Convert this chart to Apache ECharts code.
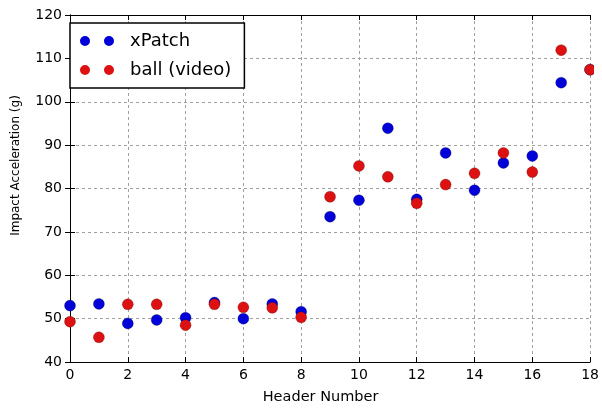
<!DOCTYPE html>
<html>
<head>
<meta charset="utf-8">
<script src="https://cdn.jsdelivr.net/npm/echarts@6/dist/echarts.min.js"></script>
<style>html,body{margin:0;padding:0;background:#fff;}#c{width:602px;height:411px;}</style>
</head>
<body>
<div id="c"></div>
<script>
var headers = [0,1,2,3,4,5,6,7,8,9,10,11,12,13,14,15,16,17,18];
var xPatch = [53.0, 53.4, 48.9, 49.7, 50.2, 53.7, 50.0, 53.4, 51.6, 73.5, 77.3, 93.9, 77.5, 88.2, 79.6, 85.9, 87.5, 104.4, 107.4];
var ballVideo = [49.3, 45.7, 53.3, 53.3, 48.5, 53.3, 52.6, 52.5, 50.3, 78.1, 85.2, 82.7, 76.6, 80.9, 83.5, 88.2, 83.8, 111.9, 107.4];

function pairs(xs, ys){ return xs.map(function(x,i){ return [x, ys[i]]; }); }

var font = 'DejaVu Sans';
// two dots plus an invisible point that widens the icon box to leave the text gap
var twoDots = 'path://M0,5A5,5 0 1,0 10,5A5,5 0 1,0 0,5Z M24,5A5,5 0 1,0 34,5A5,5 0 1,0 24,5Z M45,5L45,5Z';
var grid = { left: 70, top: 15, right: 9, bottom: 49 };
var splitLine = { show: true, lineStyle: { color: '#a0a0a0', type: [3,3], width: 1 } };
var axisLine = { show: true, lineStyle: { color: '#000', width: 1 } };
var tick = { show: true, inside: true, length: 5, lineStyle: { color: '#000', width: 1 } };

var chart = echarts.init(document.getElementById('c'), null, { renderer: 'canvas' });
chart.setOption({
  animation: false,
  backgroundColor: '#fff',
  grid: grid,
  legend: {
    orient: 'vertical',
    left: 70, top: 23,
    padding: [9, 13, 9, 10],
    itemWidth: 45, itemHeight: 10, itemGap: 11,
    itemStyle: { borderWidth: 0 },
    backgroundColor: '#fff', borderColor: '#000', borderWidth: 1.5, borderRadius: 0,
    textStyle: { fontFamily: font, fontSize: 18, color: '#000', lineHeight: 18 },
    data: [
      { name: 'xPatch', icon: twoDots },
      { name: 'ball (video)', icon: twoDots }
    ]
  },
  graphic: [{
    type: 'rect', left: 594, top: 8, shape: { width: 8, height: 357 },
    style: { fill: '#fff' }, z: 100, silent: true
  }],
  xAxis: [{
    type: 'value', min: 0, max: 18, interval: 2, position: 'bottom',
    name: 'Header Number', nameLocation: 'middle', nameGap: 28,
    nameTextStyle: { fontFamily: font, fontSize: 14.5, color: '#000', padding: [0, 19, 0, 0] },
    axisLine: axisLine, axisTick: tick, splitLine: splitLine,
    axisLabel: { fontFamily: font, fontSize: 14, color: '#000', margin: 6 }
  }, {
    type: 'value', min: 0, max: 18, interval: 2, position: 'top',
    axisLine: axisLine, axisTick: tick, splitLine: { show: false }, axisLabel: { show: false }
  }],
  yAxis: [{
    type: 'value', min: 40, max: 120, interval: 10, position: 'left',
    name: 'Impact Acceleration (g)', nameLocation: 'middle', nameGap: 48,
    nameTextStyle: { fontFamily: font, fontSize: 12, color: '#000', padding: [0, 0, 0, 46] },
    axisLine: axisLine, axisTick: tick, splitLine: splitLine,
    axisLabel: { fontFamily: font, fontSize: 14, color: '#000', margin: 8 }
  }, {
    type: 'value', min: 40, max: 120, interval: 10, position: 'right',
    axisLine: axisLine, axisTick: tick, splitLine: { show: false }, axisLabel: { show: false }
  }],
  series: [{
    name: 'xPatch', type: 'scatter', symbol: 'circle', symbolSize: 11,
    itemStyle: { color: '#0000d8', borderColor: 'rgba(0,0,60,0.5)', borderWidth: 0.6, opacity: 1 },
    data: pairs(headers, xPatch), z: 2
  }, {
    name: 'ball (video)', type: 'scatter', symbol: 'circle', symbolSize: 11,
    itemStyle: { color: '#dd1111', borderColor: 'rgba(80,0,0,0.5)', borderWidth: 0.6, opacity: 1 },
    data: pairs(headers, ballVideo), z: 3
  }]
});
</script>
</body>
</html>
